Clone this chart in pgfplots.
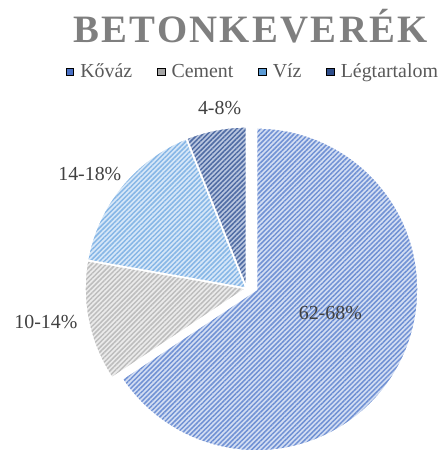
\documentclass[border=0pt]{standalone}
\usepackage{fontspec}
\setmainfont{Liberation Serif}
\usepackage{pgfplots}
\pgfplotsset{compat=1.18}
\usepackage{pgfplotstable}
\usetikzlibrary{patterns.meta}

\definecolor{kbg}{HTML}{D3DEF3}
\definecolor{kst}{HTML}{7091D4}
\definecolor{kleg}{HTML}{4A70C4}
\definecolor{cbg}{HTML}{EBEBEB}
\definecolor{cst}{HTML}{BDBDBD}
\definecolor{cleg}{HTML}{A5A5A5}
\definecolor{vbg}{HTML}{D6E7F8}
\definecolor{vst}{HTML}{86B6E6}
\definecolor{vleg}{HTML}{5B9BD5}
\definecolor{lbg}{HTML}{B9C6DF}
\definecolor{lst}{HTML}{4F6BA3}
\definecolor{lleg}{HTML}{2E4D8A}
\definecolor{titlegray}{HTML}{7F7F7F}
\definecolor{leggray}{HTML}{595959}
\definecolor{labgray}{HTML}{404040}

\pgfplotstableread{
name value
Kovaz 65
Cement 12
Viz 16
Legtartalom 6
}\piedata

\tikzset{slice/.style n args={2}{preaction={fill=#1},
  pattern={Lines[angle=45,distance=3.4bp,line width=1.5bp]}, pattern color=#2,
  draw=white, line width=1.8bp, line join=round}}

\begin{document}
\begin{tikzpicture}
\pgfplotstablegetelem{0}{value}\of\piedata\edef\vA{\pgfplotsretval}
\pgfplotstablegetelem{1}{value}\of\piedata\edef\vB{\pgfplotsretval}
\pgfplotstablegetelem{2}{value}\of\piedata\edef\vC{\pgfplotsretval}
\pgfplotstablegetelem{3}{value}\of\piedata\edef\vD{\pgfplotsretval}
\pgfmathsetmacro\tot{\vA+\vB+\vC+\vD}
\pgfmathsetmacro\aO{90}
\pgfmathsetmacro\aA{90-360*(\vA/\tot)}
\pgfmathsetmacro\aB{\aA-360*(\vB/\tot)}
\pgfmathsetmacro\aC{\aB-360*(\vC/\tot)}
\pgfmathsetmacro\aD{\aC-360*(\vD/\tot)}
\begin{axis}[
  x=1bp, y=1bp, xmin=0, xmax=441, ymin=0, ymax=452,
  hide axis, clip=false,
  legend style={at={(axis cs:252.5,380.5)}, anchor=center, draw=none, fill=none,
    legend columns=4, font=\fontsize{20}{21}\selectfont, text=leggray,
    inner sep=0pt, nodes={inner sep=0pt},
    /tikz/every odd column/.append style={column sep=6.5bp},
    /tikz/every even column/.append style={column sep=25bp}},
  legend image code/.code={\fill[#1] (0bp,-3.6bp) rectangle (7.5bp,3.6bp);},
]
\path (axis cs:0,0) rectangle (axis cs:441,452);
% slices
\path[slice={kbg}{kst}] (axis cs:257,162) -- ++(\aO:162bp) arc[start angle=\aO, end angle=\aA, radius=162bp] -- cycle;
\path[slice={cbg}{cst}] (axis cs:247,163) -- ++(\aA:162bp) arc[start angle=\aA, end angle=\aB, radius=162bp] -- cycle;
\path[slice={vbg}{vst}] (axis cs:247,163) -- ++(\aB:162bp) arc[start angle=\aB, end angle=\aC, radius=162bp] -- cycle;
\path[slice={lbg}{lst}] (axis cs:247,163) -- ++(\aC:162bp) arc[start angle=\aC, end angle=\aD, radius=162bp] -- cycle;
% labels
\node[anchor=base, font=\fontsize{20}{22}\selectfont, text=labgray] at (axis cs:331,132) {62-68\%};
\node[anchor=base, font=\fontsize{20}{22}\selectfont, text=labgray] at (axis cs:46,123) {10-14\%};
\node[anchor=base, font=\fontsize{20}{22}\selectfont, text=labgray] at (axis cs:90,271) {14-18\%};
\node[anchor=base, font=\fontsize{20}{22}\selectfont, text=labgray] at (axis cs:220,337) {4-8\%};
% title
\node[anchor=base, font=\fontsize{39}{44}\selectfont\bfseries\addfontfeature{LetterSpace=6}, text=titlegray] at (axis cs:251,409) {BETONKEVERÉK};
\addlegendimage{fill=kleg}\addlegendentry{Kőváz}
\addlegendimage{fill=cleg}\addlegendentry{Cement}
\addlegendimage{fill=vleg}\addlegendentry{Víz}
\addlegendimage{fill=lleg}\addlegendentry{Légtartalom}
\end{axis}
\end{tikzpicture}
\end{document}
